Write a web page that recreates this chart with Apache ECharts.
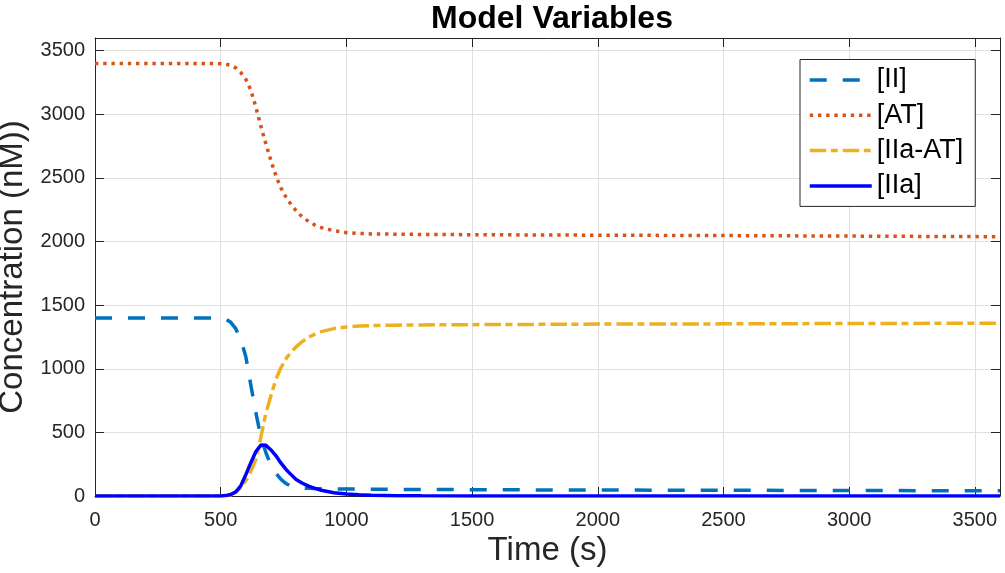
<!DOCTYPE html>
<html>
<head>
<meta charset="utf-8">
<title>Model Variables</title>
<script src="https://cdn.jsdelivr.net/npm/echarts@6/dist/echarts.min.js"></script>
<style>
  html, body { margin: 0; padding: 0; background: #fff; }
  #chart { width: 1005px; height: 573px; }
</style>
</head>
<body>
<div id="chart"></div>
<script>
// time points (s)
const time = [0, 100, 200, 300, 400, 500, 520, 540, 560, 580, 600, 620, 640, 660, 680, 700, 720, 740, 760, 780,
  800, 825, 850, 875, 900, 950, 1000, 1050, 1100, 1200, 1300, 1500, 1750, 2000, 2500, 3000, 3600];

// concentrations (nM)
const II = [1400, 1400, 1400, 1400, 1400, 1399, 1390, 1365, 1315, 1230, 1095, 870, 655, 460, 340, 240, 178, 130, 98, 76,
  66, 62, 60, 58, 57, 56, 55, 54, 53, 52, 51, 50, 48, 47, 45, 43, 41];
const AT = [3400, 3400, 3400, 3400, 3400, 3398, 3395, 3385, 3365, 3328, 3275, 3190, 3055, 2905, 2765, 2635, 2515, 2420, 2348, 2290,
  2243, 2192, 2158, 2130, 2110, 2085, 2070, 2064, 2060, 2058, 2056, 2054, 2052, 2050, 2047, 2043, 2038];
const IIaAT = [0, 0, 0, 0, 0, 0, 1, 8, 30, 68, 120, 195, 288, 465, 652, 790, 920, 1010, 1080, 1132,
  1172, 1215, 1248, 1272, 1292, 1316, 1328, 1336, 1340, 1343, 1345, 1347, 1349, 1351, 1353, 1356, 1358];
const IIa = [0, 0, 0, 0, 0, 0, 3, 12, 32, 80, 168, 262, 350, 400, 398, 362, 316, 258, 209, 168,
  129, 100, 77, 60, 45, 26, 15, 9, 5, 2, 1, 0, 0, 0, 0, 0, 0];

const seriesNames = ['[II]', '[AT]', '[IIa-AT]', '[IIa]'];
const xTicks = [0, 500, 1000, 1500, 2000, 2500, 3000, 3500];
const yTicks = [0, 500, 1000, 1500, 2000, 2500, 3000, 3500];

const FONT = 'Liberation Sans, Arial, Helvetica, sans-serif';
const AXIS_COLOR = '#262626';
const GRID_COLOR = '#dfdfdf';

const chart = echarts.init(document.getElementById('chart'));

const pairs = (vals) => time.map((t, i) => [t, vals[i]]);
const tickLabel = (ticks) => (v) => (ticks.indexOf(v) >= 0 ? String(v) : '');

// plain axis used for the box (top / right) and as base for the labelled ones
const boxAxis = (extra) => Object.assign({
  type: 'value',
  min: 0,
  max: 3600,
  interval: 500,
  axisLine: { show: true, onZero: false, lineStyle: { color: AXIS_COLOR, width: 1 } },
  axisTick: { show: true, inside: true, length: 9, lineStyle: { color: AXIS_COLOR } },
  splitLine: { show: false },
  axisLabel: { show: false }
}, extra);

const lineSeries = (name, vals, color, dash, z) => ({
  name: name,
  type: 'line',
  data: pairs(vals),
  symbol: 'none',
  showSymbol: false,
  smooth: false,
  z: z,
  lineStyle: { color: color, width: 3.5, type: dash, cap: 'butt' },
  itemStyle: { color: color }
});

const option = {
  backgroundColor: '#ffffff',
  animation: false,
  title: {
    text: 'Model Variables',
    left: 547,
    textAlign: 'center',
    top: -2,
    textStyle: { fontFamily: FONT, fontSize: 32, fontWeight: 'bold', color: '#000' }
  },
  grid: { left: 95, right: 5, top: 38, bottom: 77, outerBoundsMode: 'none', containLabel: false },
  legend: {
    data: seriesNames,
    orient: 'vertical',
    left: 800,
    top: 59.5,
    padding: [7, 12, 7, 8],
    itemWidth: 62,
    itemHeight: 14,
    itemGap: 8.3,
    backgroundColor: '#fff',
    borderColor: '#262626',
    borderWidth: 1,
    borderRadius: 0,
    itemStyle: { color: 'rgba(0,0,0,0)', borderWidth: 0, opacity: 0 },
    lineStyle: { width: 3.5 },
    textStyle: { fontFamily: FONT, fontSize: 27, lineHeight: 27, color: '#000' }
  },
  xAxis: [
    boxAxis({
      position: 'bottom',
      name: 'Time (s)',
      nameLocation: 'middle',
      nameGap: 38,
      nameTextStyle: { fontFamily: FONT, fontSize: 33, color: AXIS_COLOR },
      splitLine: { show: true, lineStyle: { color: GRID_COLOR, width: 1 } },
      axisLabel: {
        show: true, margin: 14, fontFamily: FONT, fontSize: 20, color: AXIS_COLOR,
        formatter: tickLabel(xTicks)
      }
    }),
    boxAxis({ position: 'top' })
  ],
  yAxis: [
    boxAxis({
      position: 'left',
      name: 'Concentration (nM))',
      nameLocation: 'middle',
      nameGap: 56,
      nameTextStyle: { fontFamily: FONT, fontSize: 33, color: AXIS_COLOR },
      splitLine: { show: true, lineStyle: { color: GRID_COLOR, width: 1 } },
      axisLabel: {
        show: true, margin: 10, fontFamily: FONT, fontSize: 20, color: AXIS_COLOR,
        formatter: tickLabel(yTicks)
      }
    }),
    boxAxis({ position: 'right' })
  ],
  series: [
    lineSeries(seriesNames[0], II, '#0072BD', [17, 16], 2),
    lineSeries(seriesNames[1], AT, '#D95319', [3.4, 4.8], 3),
    lineSeries(seriesNames[2], IIaAT, '#EDB120', [16.5, 4.5, 7, 5], 4),
    lineSeries(seriesNames[3], IIa, '#0000FF', 'solid', 5)
  ]
};

chart.setOption(option);
window.addEventListener('resize', () => chart.resize());
</script>
</body>
</html>
